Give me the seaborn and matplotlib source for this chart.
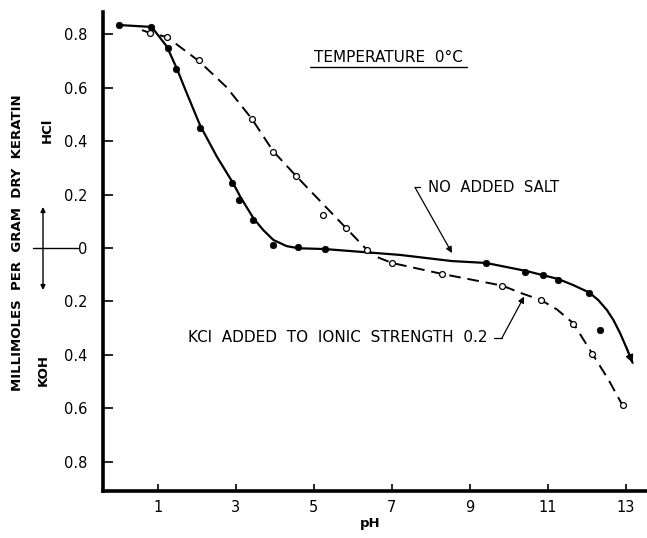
import pandas as pd
import seaborn as sns
import matplotlib.pyplot as plt
from matplotlib.lines import Line2D

# measured points, no added salt (filled circles)
salt_free_ph = [0.01, 0.83, 1.26, 1.47, 2.09, 2.91, 3.09, 3.45, 3.96, 4.60, 5.29,
                9.42, 10.43, 10.88, 11.26, 12.07, 12.34]
salt_free_val = [0.835, 0.829, 0.749, 0.670, 0.449, 0.243, 0.180, 0.105, 0.011, 0.003, -0.005,
                 -0.057, -0.091, -0.103, -0.120, -0.167, -0.307]

# measured points, KCl added to ionic strength 0.2 (open circles)
kcl_ph = [0.81, 1.24, 2.07, 3.42, 3.95, 4.56, 5.23, 5.83, 6.36, 7.02, 8.29,
          9.84, 10.83, 11.66, 12.13, 12.93]
kcl_val = [0.804, 0.791, 0.704, 0.483, 0.361, 0.270, 0.125, 0.075, -0.007, -0.057, -0.097,
           -0.141, -0.195, -0.285, -0.398, -0.588]

# hand drawn curves
salt_free_curve_ph = [0.01, 0.83, 0.91, 1.24, 1.49, 1.75, 2.09, 2.52, 2.94, 3.12, 3.46, 3.71, 3.97,
                      4.31, 4.61, 5.29, 7.22, 8.55, 9.42, 10.45, 11.27, 11.66, 12.07, 12.30,
                      12.52, 12.69, 12.86, 13.03, 13.18]
salt_free_curve_val = [0.835, 0.828, 0.816, 0.754, 0.673, 0.579, 0.459, 0.342, 0.242, 0.192, 0.111,
                       0.067, 0.030, 0.007, -0.001, -0.004, -0.026, -0.049, -0.056, -0.086, -0.116,
                       -0.139, -0.167, -0.195, -0.232, -0.270, -0.319, -0.376, -0.430]

kcl_curve_ph = [0.60, 0.81, 1.24, 2.06, 2.77, 3.42, 3.96, 4.55, 5.83, 6.37, 6.63, 7.01, 8.29,
                9.84, 10.34, 10.83, 11.24, 11.66, 12.13, 12.55, 12.99]
kcl_curve_val = [0.816, 0.805, 0.790, 0.700, 0.602, 0.483, 0.363, 0.270, 0.075, -0.007, -0.034,
                 -0.056, -0.097, -0.141, -0.170, -0.195, -0.230, -0.282, -0.392, -0.490,
                 -0.607]

x_ticks = [1, 3, 5, 7, 9, 11, 13]
y_ticks = [0.8, 0.6, 0.4, 0.2, 0, -0.2, -0.4, -0.6, -0.8]
y_tick_labels = ['0.8', '0.6', '0.4', '0.2', '0', '0.2', '0.4', '0.6', '0.8']

sns.set_style('ticks', {'text.color': 'black', 'xtick.color': 'black', 'ytick.color': 'black',
                        'axes.edgecolor': 'black', 'axes.labelcolor': 'black'})
plt.rcParams['font.family'] = ['DejaVu Sans']

fig = plt.figure(figsize=(6.47, 5.38), dpi=100)
ax = fig.add_axes([0.1592, 0.0879, 0.8408, 0.8904])

sns.lineplot(x=salt_free_curve_ph, y=salt_free_curve_val, sort=False, estimator=None,
             color='black', lw=1.6, ax=ax)
sns.lineplot(x=kcl_curve_ph, y=kcl_curve_val, sort=False, estimator=None,
             color='black', lw=1.4, linestyle=(0, (6, 3.5)), ax=ax)
sns.scatterplot(x=salt_free_ph, y=salt_free_val, color='black', s=22, edgecolor='black',
                linewidth=0.5, zorder=5, ax=ax)
sns.scatterplot(x=kcl_ph, y=kcl_val, color='white', s=18, edgecolor='black',
                linewidth=0.9, zorder=5, ax=ax)

# arrowhead at the end of the solid curve
ax.annotate('', xy=(salt_free_curve_ph[-1], salt_free_curve_val[-1]),
            xytext=(salt_free_curve_ph[-2], salt_free_curve_val[-2]),
            arrowprops=dict(arrowstyle='-|>', color='black', lw=1.2, mutation_scale=11,
                            shrinkA=0, shrinkB=0))

ax.set_xlim(-0.40, 13.55)
ax.set_ylim(-0.909, 0.885)
ax.set_xticks(x_ticks)
ax.set_yticks(y_ticks)
ax.set_yticklabels(y_tick_labels)
ax.tick_params(axis='y', direction='in', length=7, width=1.2, pad=11, labelsize=10.5)
ax.tick_params(axis='x', direction='in', length=5, width=1.2, pad=7, labelsize=10.5)
sns.despine(ax=ax)
ax.spines['left'].set_linewidth(2.6)
ax.spines['bottom'].set_linewidth(2.6)
ax.set_xlabel('')
ax.set_ylabel('')

fig.text(370 / 647, 1 - 524 / 538, 'pH', ha='center', va='center', fontsize=9.5, weight='bold')

# y label block
fig.text(18 / 647, 1 - 243 / 538, 'MILLIMOLES  PER  GRAM  DRY  KERATIN', rotation=90,
         ha='center', va='center', fontsize=9.5, weight='bold')
fig.text(47 / 647, 1 - 130 / 538, 'HCl', rotation=90, ha='center', va='center',
         fontsize=9.5, weight='bold')
fig.text(43 / 647, 1 - 370 / 538, 'KOH', rotation=90, ha='center', va='center',
         fontsize=9.5, weight='bold')
fig.add_artist(Line2D([33 / 647, 78 / 647], [1 - 248 / 538, 1 - 248 / 538],
                      color='black', lw=1.0))
ax.annotate('', xy=(43 / 647, 1 - 207 / 538), xytext=(43 / 647, 1 - 290 / 538),
            xycoords='figure fraction', textcoords='figure fraction',
            arrowprops=dict(arrowstyle='<|-|>', color='black', lw=1.0, mutation_scale=7,
                            shrinkA=0, shrinkB=0))

# annotations
ax.text(6.91, 0.712, 'TEMPERATURE  0°C', ha='center', va='center', fontsize=11)
ax.plot([4.91, 8.94], [0.678, 0.678], color='black', lw=1.0)

ax.text(7.94, 0.228, 'NO  ADDED  SALT', ha='left', va='center', fontsize=10.7)
ax.plot([7.60, 7.74], [0.229, 0.229], color='black', lw=0.9)
ax.annotate('', xy=(8.55, -0.019), xytext=(7.60, 0.227),
            arrowprops=dict(arrowstyle='-|>', color='black', lw=0.9, mutation_scale=9,
                            shrinkA=0, shrinkB=0))

ax.text(1.78, -0.337, 'KCl  ADDED  TO  IONIC  STRENGTH  0.2', ha='left', va='center', fontsize=11)
ax.plot([9.62, 9.83], [-0.337, -0.337], color='black', lw=0.9)
ax.annotate('', xy=(10.40, -0.182), xytext=(9.83, -0.337),
            arrowprops=dict(arrowstyle='-|>', color='black', lw=0.9, mutation_scale=9,
                            shrinkA=0, shrinkB=0))

fig.savefig('out.png', dpi=100)
